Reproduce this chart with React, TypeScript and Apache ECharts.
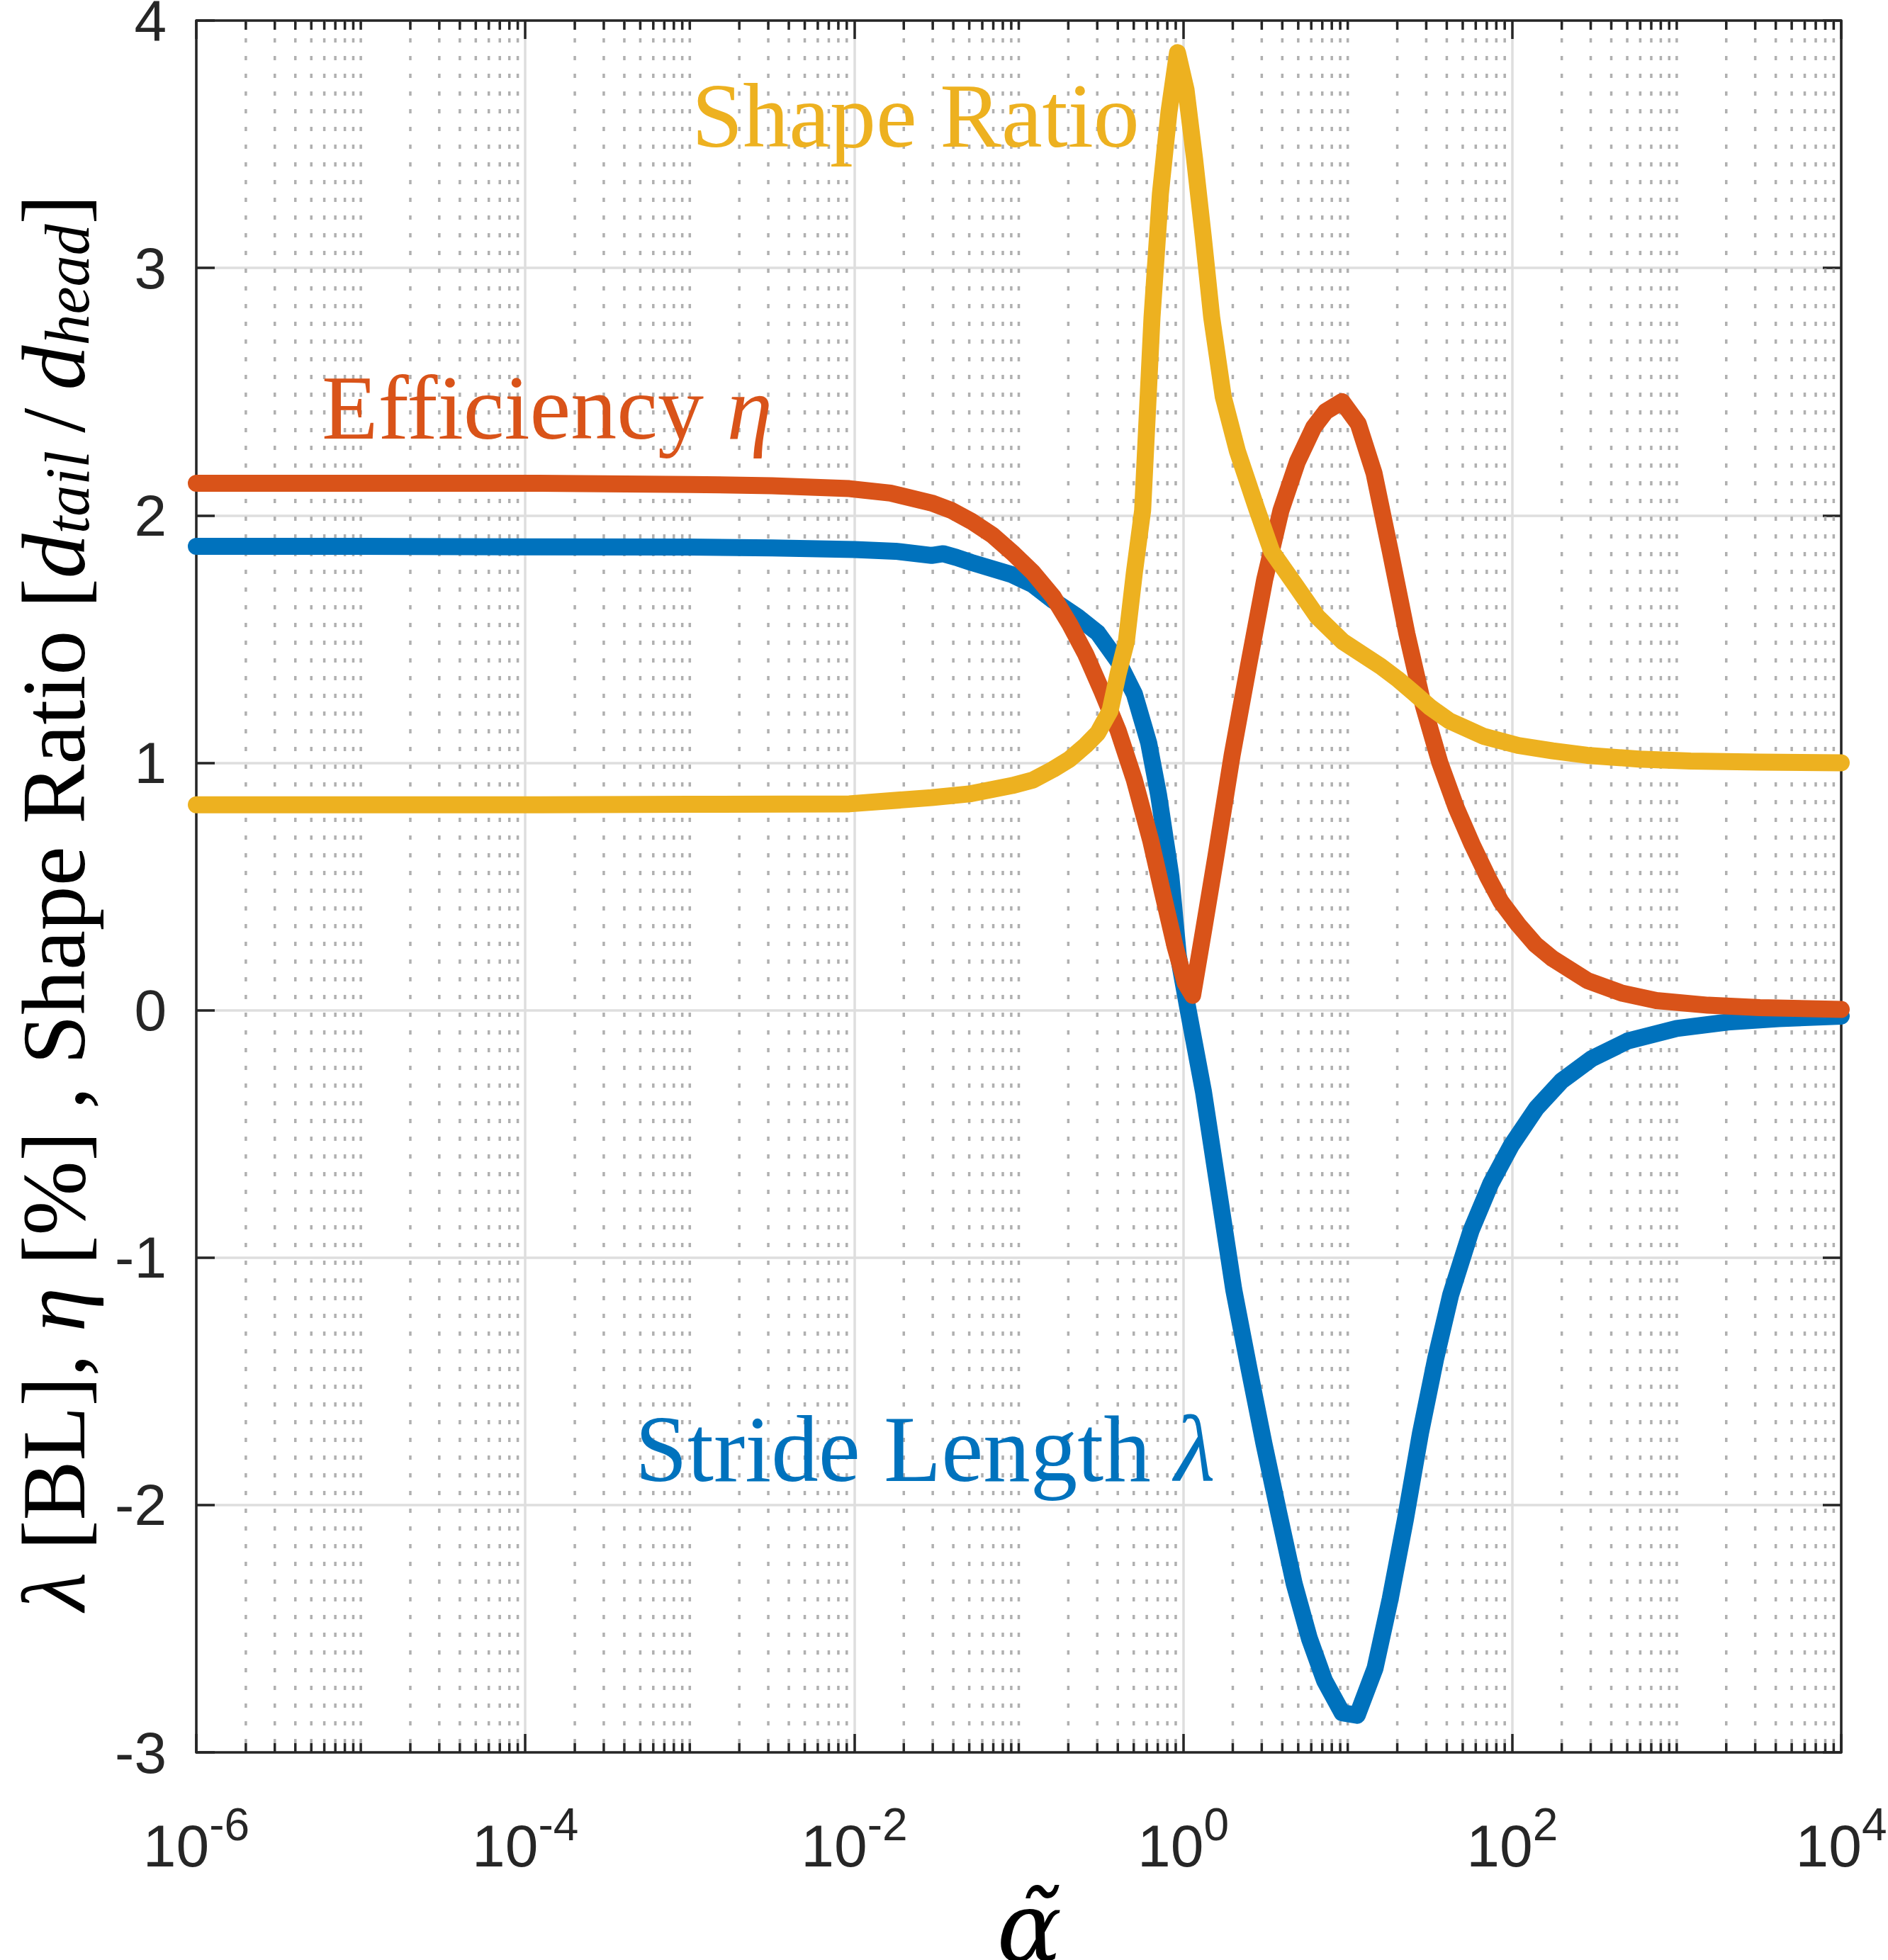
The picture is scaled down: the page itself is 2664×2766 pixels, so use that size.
import React, { useEffect, useRef } from "react";
import * as echarts from "echarts";

const W = 2664;
const H = 2766;

// log10(alpha) sample positions and values
const strideLogAlpha = [-6, -5, -4, -3, -2.5, -2, -1.75, -1.53, -1.46, -1.38, -1.29, -1.04, -0.915, -0.79, -0.643, -0.52, -0.396, -0.297, -0.21, -0.15, -0.075, -0.03, 0.03, 0.123, 0.215, 0.307, 0.4, 0.49, 0.583, 0.675, 0.767, 0.859, 0.966, 1.058, 1.166, 1.258, 1.35, 1.442, 1.534, 1.626, 1.75, 1.87, 1.994, 2.147, 2.3, 2.485, 2.7, 3.0, 3.31, 3.62, 4.0];
const strideLength = [1.875, 1.875, 1.873, 1.872, 1.868, 1.862, 1.855, 1.838, 1.845, 1.83, 1.81, 1.76, 1.72, 1.656, 1.59, 1.525, 1.41, 1.278, 1.08, 0.87, 0.54, 0.22, 0.0, -0.33, -0.73, -1.13, -1.45, -1.75, -2.04, -2.32, -2.54, -2.71, -2.84, -2.85, -2.66, -2.38, -2.06, -1.71, -1.41, -1.15, -0.89, -0.7, -0.547, -0.396, -0.286, -0.195, -0.125, -0.074, -0.048, -0.034, -0.024];

const effLogAlpha = [-6, -5, -4, -3, -2.5, -2.03, -1.78, -1.53, -1.41, -1.29, -1.16, -1.04, -0.915, -0.79, -0.69, -0.594, -0.495, -0.396, -0.297, -0.198, -0.124, -0.05, 0.012, 0.057, 0.124, 0.198, 0.297, 0.396, 0.495, 0.594, 0.693, 0.792, 0.866, 0.965, 1.064, 1.16, 1.26, 1.36, 1.46, 1.56, 1.66, 1.756, 1.85, 1.93, 2.036, 2.14, 2.246, 2.456, 2.666, 2.876, 3.19, 3.505, 4.0];
const efficiency = [2.13, 2.13, 2.13, 2.125, 2.12, 2.108, 2.09, 2.05, 2.02, 1.977, 1.92, 1.85, 1.77, 1.67, 1.56, 1.44, 1.29, 1.13, 0.93, 0.686, 0.47, 0.258, 0.11, 0.06, 0.324, 0.62, 1.03, 1.39, 1.74, 2.02, 2.215, 2.355, 2.42, 2.46, 2.37, 2.17, 1.85, 1.52, 1.23, 1.0, 0.817, 0.67, 0.54, 0.44, 0.346, 0.266, 0.208, 0.12, 0.069, 0.039, 0.02, 0.01, 0.003];

const shapeLogAlpha = [-6, -5, -4, -3, -2.03, -1.53, -1.29, -1.04, -0.915, -0.79, -0.69, -0.594, -0.52, -0.445, -0.396, -0.346, -0.297, -0.247, -0.19, -0.139, -0.087, -0.035, 0.017, 0.069, 0.121, 0.173, 0.243, 0.329, 0.445, 0.537, 0.68, 0.815, 0.97, 1.2, 1.3, 1.406, 1.5, 1.616, 1.826, 2.036, 2.246, 2.456, 2.77, 3.085, 3.505, 4.0];
const shapeRatio = [0.83, 0.83, 0.83, 0.832, 0.834, 0.859, 0.875, 0.908, 0.93, 0.974, 1.015, 1.07, 1.12, 1.21, 1.36, 1.49, 1.77, 2.02, 2.8, 3.3, 3.63, 3.87, 3.72, 3.44, 3.13, 2.8, 2.48, 2.26, 2.03, 1.855, 1.72, 1.59, 1.49, 1.39, 1.34, 1.28, 1.225, 1.17, 1.107, 1.07, 1.048, 1.03, 1.015, 1.007, 1.003, 1.0];

// axis structure
const xMin = 1e-6;
const xMax = 1e4;
const yMin = -3;
const yMax = 4;
const majorExponentStep = 2;
const minorMultipliers = [2, 3, 4, 5, 6, 7, 8, 9];

const C_BLUE = "#0072BD";
const C_RED = "#D95319";
const C_YELLOW = "#EDB120";
const AXIS_C = "#262626";
const SANS = "'Liberation Sans', Arial, Helvetica, sans-serif";
const SERIF = "'Liberation Serif', 'Times New Roman', serif";
const LINE_W = 24;

function toPairs(logA: number[], vals: number[]) {
  return logA.map((e, i) => [Math.pow(10, e), vals[i]]);
}

function minorTickValues() {
  const out: number[][] = [];
  const e0 = Math.round(Math.log10(xMin));
  const e1 = Math.round(Math.log10(xMax));
  for (let e = e0; e < e1; e++) {
    if ((e - e0) % majorExponentStep !== 0) out.push([Math.pow(10, e), 0]);
    for (const m of minorMultipliers) out.push([m * Math.pow(10, e), 0]);
  }
  return out;
}

export default function App() {
  const ref = useRef<HTMLDivElement>(null);
  useEffect(() => {
    if (!ref.current) return;
    const chart = echarts.init(ref.current, undefined, { renderer: "svg" });
    const lineSeries = (name: string, data: number[][], color: string) => ({
      name,
      type: "line",
      data,
      showSymbol: false,
      symbol: "none",
      smooth: false,
      lineStyle: { color, width: LINE_W, cap: "round", join: "round" },
      itemStyle: { color },
      silent: true,
      z: 3,
    });
    const option: any = {
      animation: false,
      backgroundColor: "#ffffff",
      grid: { left: 277, right: 66, top: 29, bottom: 293, containLabel: false, outerBoundsMode: "none" },
      xAxis: [
        {
          type: "log",
          logBase: 10,
          min: xMin,
          max: xMax,
          interval: majorExponentStep,
          splitNumber: 5,
          position: "bottom",
          name: "α\u0303",
          nameLocation: "middle",
          nameGap: 168,
          nameTextStyle: {
            fontFamily: "'DejaVu Serif', serif",
            fontStyle: "italic",
            fontSize: 136,
            lineHeight: 96,
            color: "#000",
            padding: [0, 0, 0, 30],
          },
          axisLine: { show: true, onZero: false, lineStyle: { color: AXIS_C, width: 3.5 } },
          axisTick: { show: true, inside: true, length: 26, lineStyle: { color: AXIS_C, width: 3.5 } },
          minorTick: { show: false },
          splitLine: { show: true, lineStyle: { color: "#dedede", width: 3.5 } },
          axisLabel: {
            margin: 90,
            formatter: (v: number) => `{b|10}{s|${Math.round(Math.log10(v))}}`,
            rich: {
              b: { fontFamily: SANS, fontSize: 84, lineHeight: 84, color: AXIS_C, verticalAlign: "bottom" },
              s: { fontFamily: SANS, fontSize: 64, lineHeight: 64, color: AXIS_C, verticalAlign: "bottom", padding: [0, 0, 40, 0] },
            },
          },
        },
        {
          type: "log",
          logBase: 10,
          min: xMin,
          max: xMax,
          interval: majorExponentStep,
          splitNumber: 5,
          position: "top",
          axisLine: { show: true, onZero: false, lineStyle: { color: AXIS_C, width: 3.5 } },
          axisTick: { show: true, inside: true, length: 26, lineStyle: { color: AXIS_C, width: 3.5 } },
          splitLine: { show: false },
          axisLabel: { show: false },
        },
      ],
      yAxis: [
        {
          type: "value",
          min: yMin,
          max: yMax,
          interval: 1,
          position: "left",
          name: "{g|λ}{r| [BL], }{g|η}{r| [%] , Shape Ratio [}{g|d}{s|tail}{r|\u2009/\u2009}{g|d}{s|head}{r|]}",
          nameLocation: "middle",
          nameRotate: 90,
          nameGap: 138,
          nameTextStyle: {
            padding: [0, 46, 0, 0],
            rich: {
              r: { fontFamily: SERIF, fontSize: 126, lineHeight: 126, color: "#000", verticalAlign: "top" },
              g: { fontFamily: SERIF, fontStyle: "italic", fontSize: 126, lineHeight: 126, color: "#000", verticalAlign: "top" },
              s: { fontFamily: SERIF, fontStyle: "italic", fontSize: 88, lineHeight: 88, color: "#000", verticalAlign: "bottom", padding: [52, 0, 0, 0] },
            },
          },
          axisLine: { show: true, onZero: false, lineStyle: { color: AXIS_C, width: 3.5 } },
          axisTick: { show: true, inside: true, length: 26, lineStyle: { color: AXIS_C, width: 3.5 } },
          splitLine: { show: true, lineStyle: { color: "#dedede", width: 3.5 } },
          axisLabel: { margin: 42, fontFamily: SANS, fontSize: 82, lineHeight: 56, color: AXIS_C },
        },
        {
          type: "value",
          min: yMin,
          max: yMax,
          interval: 1,
          position: "right",
          axisLine: { show: true, onZero: false, lineStyle: { color: AXIS_C, width: 3.5 } },
          axisTick: { show: true, inside: true, length: 26, lineStyle: { color: AXIS_C, width: 3.5 } },
          splitLine: { show: false },
          axisLabel: { show: false },
        },
      ],
      series: [
        {
          type: "custom",
          name: "minor grid",
          xAxisIndex: 0,
          yAxisIndex: 0,
          silent: true,
          clip: false,
          z: 1,
          data: minorTickValues(),
          encode: { x: 0, y: 1 },
          renderItem: (params: any, api: any) => {
            const v = api.value(0);
            const top = api.coord([v, yMax]);
            const bot = api.coord([v, yMin]);
            return {
              type: "group",
              children: [
                {
                  type: "line",
                  shape: { x1: top[0], y1: top[1], x2: bot[0], y2: bot[1] },
                  style: { stroke: "#b0b0b0", lineWidth: 3.5, lineDash: [6, 19] },
                },
                {
                  type: "line",
                  shape: { x1: bot[0], y1: bot[1], x2: bot[0], y2: bot[1] - 13 },
                  style: { stroke: AXIS_C, lineWidth: 3.5 },
                },
                {
                  type: "line",
                  shape: { x1: top[0], y1: top[1], x2: top[0], y2: top[1] + 13 },
                  style: { stroke: AXIS_C, lineWidth: 3.5 },
                },
              ],
            };
          },
        },
        lineSeries("Stride Length λ", toPairs(strideLogAlpha, strideLength), C_BLUE),
        lineSeries("Efficiency η", toPairs(effLogAlpha, efficiency), C_RED),
        lineSeries("Shape Ratio", toPairs(shapeLogAlpha, shapeRatio), C_YELLOW),
      ],
      graphic: {
        elements: [
          {
            type: "text",
            x: 976,
            y: 163,
            z: 10,
            style: { text: "Shape Ratio", fill: C_YELLOW, font: `130px ${SERIF}`, align: "left", verticalAlign: "middle" },
          },
          {
            type: "text",
            x: 454,
            y: 575,
            z: 10,
            style: {
              text: "{a|Efficiency }{b|η}",
              align: "left",
              verticalAlign: "middle",
              rich: {
                a: { fill: C_RED, fontFamily: SERIF, fontSize: 130 },
                b: { fill: C_RED, fontFamily: SERIF, fontSize: 130, fontStyle: "italic" },
              },
            },
          },
          {
            type: "text",
            x: 896,
            y: 2045,
            z: 10,
            style: {
              text: "{a|Stride Length }{b|λ}",
              align: "left",
              verticalAlign: "middle",
              rich: {
                a: { fill: C_BLUE, fontFamily: SERIF, fontSize: 133 },
                b: { fill: C_BLUE, fontFamily: SERIF, fontSize: 133, fontStyle: "italic" },
              },
            },
          },
        ],
      },
    };
    chart.setOption(option);
    return () => chart.dispose();
  }, []);
  return (
    <div
      ref={ref}
      style={{ position: "absolute", left: 0, top: 0, width: W, height: H, background: "#fff" }}
    />
  );
}
